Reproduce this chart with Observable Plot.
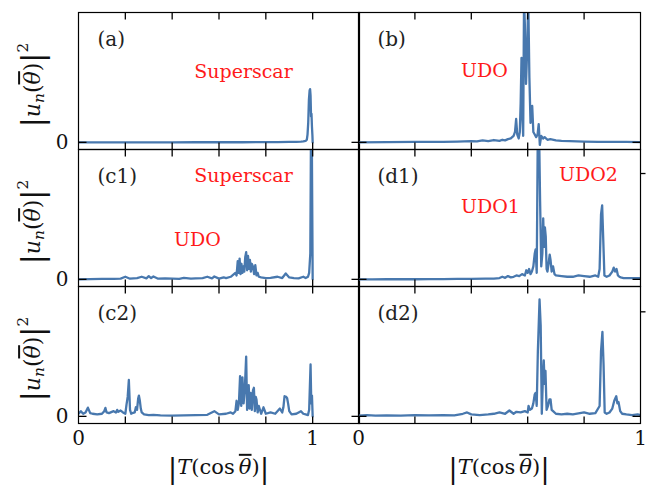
<!DOCTYPE html>
<html><head><meta charset="utf-8">
<script src="https://cdn.jsdelivr.net/npm/d3@7"></script>
<script src="https://cdn.jsdelivr.net/npm/@observablehq/plot@0.6"></script>
<style>
body{margin:0;background:#fff;}
#chart{position:relative;width:652px;height:493px;background:#fff;font-family:"DejaVu Serif",serif;color:#111;overflow:hidden;}
.lab{position:absolute;white-space:nowrap;line-height:1;}
.ylab{transform:translate(-50%,-50%) rotate(-90deg);font-size:22px;}
.xlab{transform:translate(-50%,-50%);font-size:21px;}
.bar{font-size:1.35em;vertical-align:-0.12em;font-style:normal;}
.ov{text-decoration:overline;font-style:italic;}
sub{font-size:0.7em;vertical-align:-0.3em;}
sup{font-size:0.7em;vertical-align:0.75em;}
</style></head><body><div id="chart"></div>
<script>
// ---- data: [ |T(cos θ)| , |u_n(θ)|^2 (relative) ] ----
const panelA = [[0,0],[0.1,0],[0.2,0],[0.3,0],[0.4,0],[0.5,0.001],[0.6,0.001],[0.7,0.001],[0.8,0.002],[0.85,0.002],[0.9,0.003],[0.93,0.004],[0.95,0.006],[0.96,0.008],[0.97,0.012],[0.975,0.02],[0.978,0.06],[0.981,0.15],[0.984,0.33],[0.987,0.40],[0.989,0.41],[0.991,0.36],[0.993,0.2],[0.995,0.22],[0.997,0.12],[0.999,0.05],[1.0,0]];
const panelB = [[0,0],[0.1,0.002],[0.2,0.003],[0.3,0.004],[0.35,0.006],[0.4,0.01],[0.42,0.008],[0.44,0.015],[0.46,0.01],[0.48,0.018],[0.5,0.012],[0.51,0.02],[0.52,0.015],[0.53,0.025],[0.54,0.03],[0.55,0.05],[0.555,0.08],[0.559,0.18],[0.563,0.06],[0.568,0.03],[0.572,0.08],[0.575,0.3],[0.578,0.65],[0.581,0.2],[0.584,0.05],[0.587,1.1],[0.59,0.9],[0.594,0.45],[0.598,0.7],[0.602,1.1],[0.606,0.5],[0.61,0.15],[0.613,0.2],[0.616,0.28],[0.62,0.08],[0.625,0.06],[0.63,0.04],[0.635,0.06],[0.639,0.14],[0.643,-0.02],[0.648,0.05],[0.655,0.03],[0.66,0.04],[0.67,0.02],[0.68,0.025],[0.7,0.015],[0.72,0.012],[0.75,0.01],[0.8,0.006],[0.85,0.004],[0.9,0.003],[0.95,0.003],[1.0,0.002]];
const panelC1 = [[0,0],[0.05,0.002],[0.1,0.003],[0.15,0.004],[0.18,0.006],[0.2,0.02],[0.22,0.005],[0.25,0.01],[0.27,0.02],[0.29,0.008],[0.3,0.025],[0.31,0.01],[0.32,0.022],[0.34,0.005],[0.37,0.008],[0.4,0.006],[0.43,0.004],[0.45,0.012],[0.48,0.006],[0.5,0.008],[0.53,0.01],[0.55,0.02],[0.57,0.008],[0.58,0.022],[0.6,0.006],[0.62,0.016],[0.63,0.01],[0.65,0.02],[0.66,0.035],[0.67,0.05],[0.675,0.03],[0.68,0.14],[0.684,0.05],[0.688,0.16],[0.692,0.04],[0.696,0.12],[0.7,0.05],[0.704,0.1],[0.708,0.06],[0.712,0.17],[0.716,0.21],[0.72,0.07],[0.724,0.18],[0.728,0.08],[0.732,0.15],[0.736,0.06],[0.74,0.12],[0.745,0.1],[0.75,0.04],[0.755,0.11],[0.76,0.03],[0.765,0.05],[0.77,0.02],[0.78,0.015],[0.8,0.01],[0.82,0.012],[0.85,0.02],[0.87,0.01],[0.885,0.045],[0.9,0.015],[0.92,0.01],[0.94,0.008],[0.96,0.02],[0.97,0.01],[0.98,0.02],[0.985,0.05],[0.99,0.2],[0.993,1.2],[0.996,1.2],[1.0,0]];
const panelC2 = [[0,0.02],[0.01,0.04],[0.02,0.02],[0.03,0.03],[0.04,0.067],[0.05,0.025],[0.06,0.02],[0.08,0.015],[0.1,0.02],[0.11,0.04],[0.115,0.065],[0.12,0.03],[0.13,0.025],[0.15,0.04],[0.16,0.03],[0.165,0.05],[0.17,0.035],[0.18,0.045],[0.19,0.03],[0.2,0.02],[0.205,0.09],[0.21,0.15],[0.215,0.28],[0.22,0.05],[0.225,0.02],[0.23,0.025],[0.24,0.03],[0.245,0.07],[0.25,0.05],[0.255,0.14],[0.258,0.16],[0.262,0.12],[0.266,0.06],[0.27,0.03],[0.28,0.015],[0.3,0.01],[0.32,0.012],[0.35,0.008],[0.4,0.006],[0.45,0.008],[0.5,0.01],[0.55,0.012],[0.58,0.04],[0.6,0.015],[0.63,0.02],[0.65,0.03],[0.66,0.02],[0.67,0.04],[0.675,0.12],[0.68,0.05],[0.685,0.1],[0.69,0.31],[0.695,0.08],[0.7,0.3],[0.705,0.1],[0.71,0.2],[0.716,0.46],[0.72,0.05],[0.724,0.22],[0.727,0.24],[0.73,0.06],[0.735,0.18],[0.74,0.05],[0.745,0.2],[0.749,0.22],[0.753,0.04],[0.757,0.15],[0.76,0.13],[0.765,0.03],[0.77,0.08],[0.78,0.02],[0.79,0.07],[0.8,0.02],[0.82,0.03],[0.84,0.02],[0.86,0.06],[0.87,0.03],[0.875,0.07],[0.88,0.155],[0.887,0.15],[0.891,0.14],[0.895,0.1],[0.9,0.04],[0.91,0.015],[0.93,0.02],[0.95,0.04],[0.96,0.02],[0.97,0.015],[0.98,0.01],[0.985,0.05],[0.991,0.40],[0.994,0.1],[0.997,0.16],[1.0,0]];
const panelD1 = [[0,0],[0.05,0],[0.1,0.001],[0.15,0.001],[0.2,0.001],[0.25,0.002],[0.3,0.002],[0.35,0.003],[0.4,0.004],[0.45,0.005],[0.48,0.006],[0.5,0.01],[0.51,0.02],[0.52,0.012],[0.53,0.025],[0.54,0.015],[0.55,0.02],[0.56,0.03],[0.57,0.025],[0.58,0.04],[0.59,0.03],[0.595,0.07],[0.6,0.05],[0.605,0.08],[0.61,0.04],[0.615,0.06],[0.62,0.1],[0.625,0.2],[0.628,0.23],[0.632,0.05],[0.636,1.2],[0.64,1.2],[0.644,0.6],[0.648,0.1],[0.652,0.2],[0.655,0.47],[0.658,0.25],[0.661,0.4],[0.664,0.33],[0.667,0.08],[0.67,0.06],[0.674,0.12],[0.678,0.19],[0.681,0.15],[0.685,0.06],[0.69,0.1],[0.695,0.04],[0.7,0.03],[0.72,0.025],[0.74,0.02],[0.76,0.02],[0.78,0.03],[0.8,0.025],[0.82,0.02],[0.84,0.03],[0.85,0.02],[0.855,0.08],[0.86,0.5],[0.864,0.57],[0.868,0.3],[0.872,0.03],[0.88,0.02],[0.89,0.03],[0.9,0.06],[0.905,0.09],[0.91,0.06],[0.915,0.08],[0.92,0.03],[0.925,0.02],[0.93,0.015],[0.94,0.01],[0.96,0.01],[0.98,0.01],[1.0,0.01]];
const panelD2 = [[0,0.005],[0.03,0.01],[0.06,0.005],[0.1,0.008],[0.15,0.005],[0.2,0.01],[0.25,0.008],[0.3,0.01],[0.34,0.008],[0.37,0.02],[0.385,0.03],[0.4,0.015],[0.43,0.01],[0.46,0.015],[0.48,0.02],[0.5,0.03],[0.52,0.02],[0.535,0.045],[0.55,0.02],[0.56,0.035],[0.575,0.03],[0.59,0.04],[0.6,0.03],[0.603,0.08],[0.608,0.05],[0.615,0.06],[0.62,0.1],[0.625,0.17],[0.628,0.18],[0.632,0.08],[0.636,0.5],[0.642,0.90],[0.646,0.7],[0.65,0.02],[0.654,0.3],[0.657,0.43],[0.66,0.25],[0.663,0.35],[0.667,0.05],[0.672,0.08],[0.677,0.13],[0.681,0.13],[0.685,0.05],[0.69,0.04],[0.7,0.02],[0.72,0.015],[0.74,0.02],[0.76,0.015],[0.8,0.03],[0.82,0.02],[0.84,0.025],[0.855,0.08],[0.86,0.5],[0.865,0.65],[0.869,0.4],[0.873,0.03],[0.88,0.02],[0.89,0.03],[0.9,0.06],[0.907,0.12],[0.914,0.155],[0.918,0.1],[0.922,0.11],[0.928,0.04],[0.935,0.02],[0.95,0.015],[0.97,0.01],[0.99,0.015],[1.0,0.01]];

const ticksLeft = [0.2, 0.4, 0.6, 0.8, 1.0];
const ticksRight = [0.2, 0.4, 0.6, 0.8];
const xTickLabels = [{v: 0, t: "0"}, {v: 1, t: "1"}];
const yTickLabels = [{v: 0, t: "0"}];
const panelLabels = ["(a)", "(b)", "(c1)", "(d1)", "(c2)", "(d2)"];

// ---- layout ----
const FONT = "DejaVu Serif";
const LINE = "#4878ae";
const H = 137;
const TICK = 7; // px
const cols = [{left: 78, width: 281, domain: [0, 1.2], ticks: ticksLeft},
              {left: 358, width: 282, domain: [0, 1], ticks: ticksRight}];
const rows = [12, 149, 286];
const yDomain = [-0.055, 1];

const panels = [
  {data: panelA, col: 0, row: 0, label: panelLabels[0], notes: [{text: "Superscar", dx: 165, dy: 59}]},
  {data: panelB, col: 1, row: 0, label: panelLabels[1], notes: [{text: "UDO", dx: 126, dy: 58}]},
  {data: panelC1, col: 0, row: 1, label: panelLabels[2], notes: [{text: "Superscar", dx: 165, dy: 26}, {text: "UDO", dx: 119, dy: 90}]},
  {data: panelD1, col: 1, row: 1, label: panelLabels[3], notes: [{text: "UDO1", dx: 132, dy: 57}, {text: "UDO2", dx: 230, dy: 25}], side: 0.815},
  {data: panelC2, col: 0, row: 2, label: panelLabels[4], notes: []},
  {data: panelD2, col: 1, row: 2, label: panelLabels[5], notes: [], side: 0.805}
];

const chart = document.getElementById("chart");

for (const p of panels) {
  const c = cols[p.col];
  const W = c.width;
  const ty = TICK * (yDomain[1] - yDomain[0]) / H;          // tick length in y units
  const tx = (TICK + 1) * (c.domain[1] - c.domain[0]) / W;   // tick length in x units
  const tk = {stroke: "#000", strokeWidth: 1.3};
  const tickRows = c.ticks.map(v => ({v}));
  const marks = [
    Plot.line(p.data, {x: d => d[0], y: d => d[1], stroke: LINE, strokeWidth: 2.3, clip: true}),
    // inward ticks on all four sides
    Plot.link(tickRows, {x1: d => d.v, x2: d => d.v, y1: yDomain[0], y2: yDomain[0] + ty, ...tk}),
    Plot.link(tickRows, {x1: d => d.v, x2: d => d.v, y1: yDomain[1] - ty, y2: yDomain[1], ...tk}),
    Plot.link([{v: 0}], {y1: d => d.v, y2: d => d.v, x1: c.domain[0], x2: c.domain[0] + tx, ...tk}),
    Plot.link([{v: 0}], {y1: d => d.v, y2: d => d.v, x1: c.domain[1] - tx, x2: c.domain[1], ...tk}),
    Plot.frame({stroke: "#000", strokeWidth: 1.2}),
    Plot.text([p.label], {text: d => d, frameAnchor: "top-left", dx: 19, dy: 27, textAnchor: "start", lineAnchor: "middle", fontSize: 20, fontFamily: FONT, fill: "#222"})
  ];
  for (const n of p.notes) {
    marks.push(Plot.text([n], {text: d => d.text, frameAnchor: "top-left", dx: n.dx, dy: n.dy, textAnchor: "middle", lineAnchor: "middle", fontSize: 19, fontFamily: FONT, fill: "#ff1a1a"}));
  }
  if (p.side !== undefined) {
    marks.push(Plot.link([{v: p.side}], {y1: d => d.v, y2: d => d.v, x1: c.domain[1], x2: c.domain[1] + 5 * (c.domain[1] - c.domain[0]) / W, ...tk}));
  }
  if (p.col === 0) {
    marks.push(Plot.text(yTickLabels, {y: d => d.v, text: d => d.t, frameAnchor: "left", dx: -10, textAnchor: "end", lineAnchor: "middle", fontSize: 20, fontFamily: FONT, fill: "#111"}));
  }
  if (p.row === 2) {
    marks.push(Plot.text(xTickLabels, {x: d => d.v, text: d => d.t, frameAnchor: "bottom", dy: 15, lineAnchor: "middle", fontSize: 20, fontFamily: FONT, fill: "#111"}));
  }
  const svg = Plot.plot({
    width: W, height: H,
    marginTop: 0, marginBottom: 0, marginLeft: 0, marginRight: 0,
    x: {domain: c.domain, axis: null},
    y: {domain: yDomain, axis: null},
    style: {background: "transparent", overflow: "visible", fontFamily: FONT},
    marks
  });
  svg.style.position = "absolute";
  svg.style.left = c.left + "px";
  svg.style.top = rows[p.row] + "px";
  chart.appendChild(svg);
}

// axis titles (real text)
const yTitle = '<span class="bar">|</span><i>u</i><sub><i>n</i></sub>(<span class="ov">θ</span>)<span class="bar">|</span><sup>2</sup>';
for (const r of rows) {
  const d = document.createElement("div");
  d.className = "lab ylab";
  d.style.left = "32px";
  d.style.top = (r + H / 2 + 4) + "px";
  d.innerHTML = yTitle;
  chart.appendChild(d);
}
const xTitle = '<span class="bar">|</span><i>T</i>(cos&#8201;<span class="ov">θ</span>)<span class="bar">|</span>';
for (const c of cols) {
  const d = document.createElement("div");
  d.className = "lab xlab";
  d.style.left = (c.left + c.width / 2) + "px";
  d.style.top = "469px";
  d.innerHTML = xTitle;
  chart.appendChild(d);
}
</script></body></html>
